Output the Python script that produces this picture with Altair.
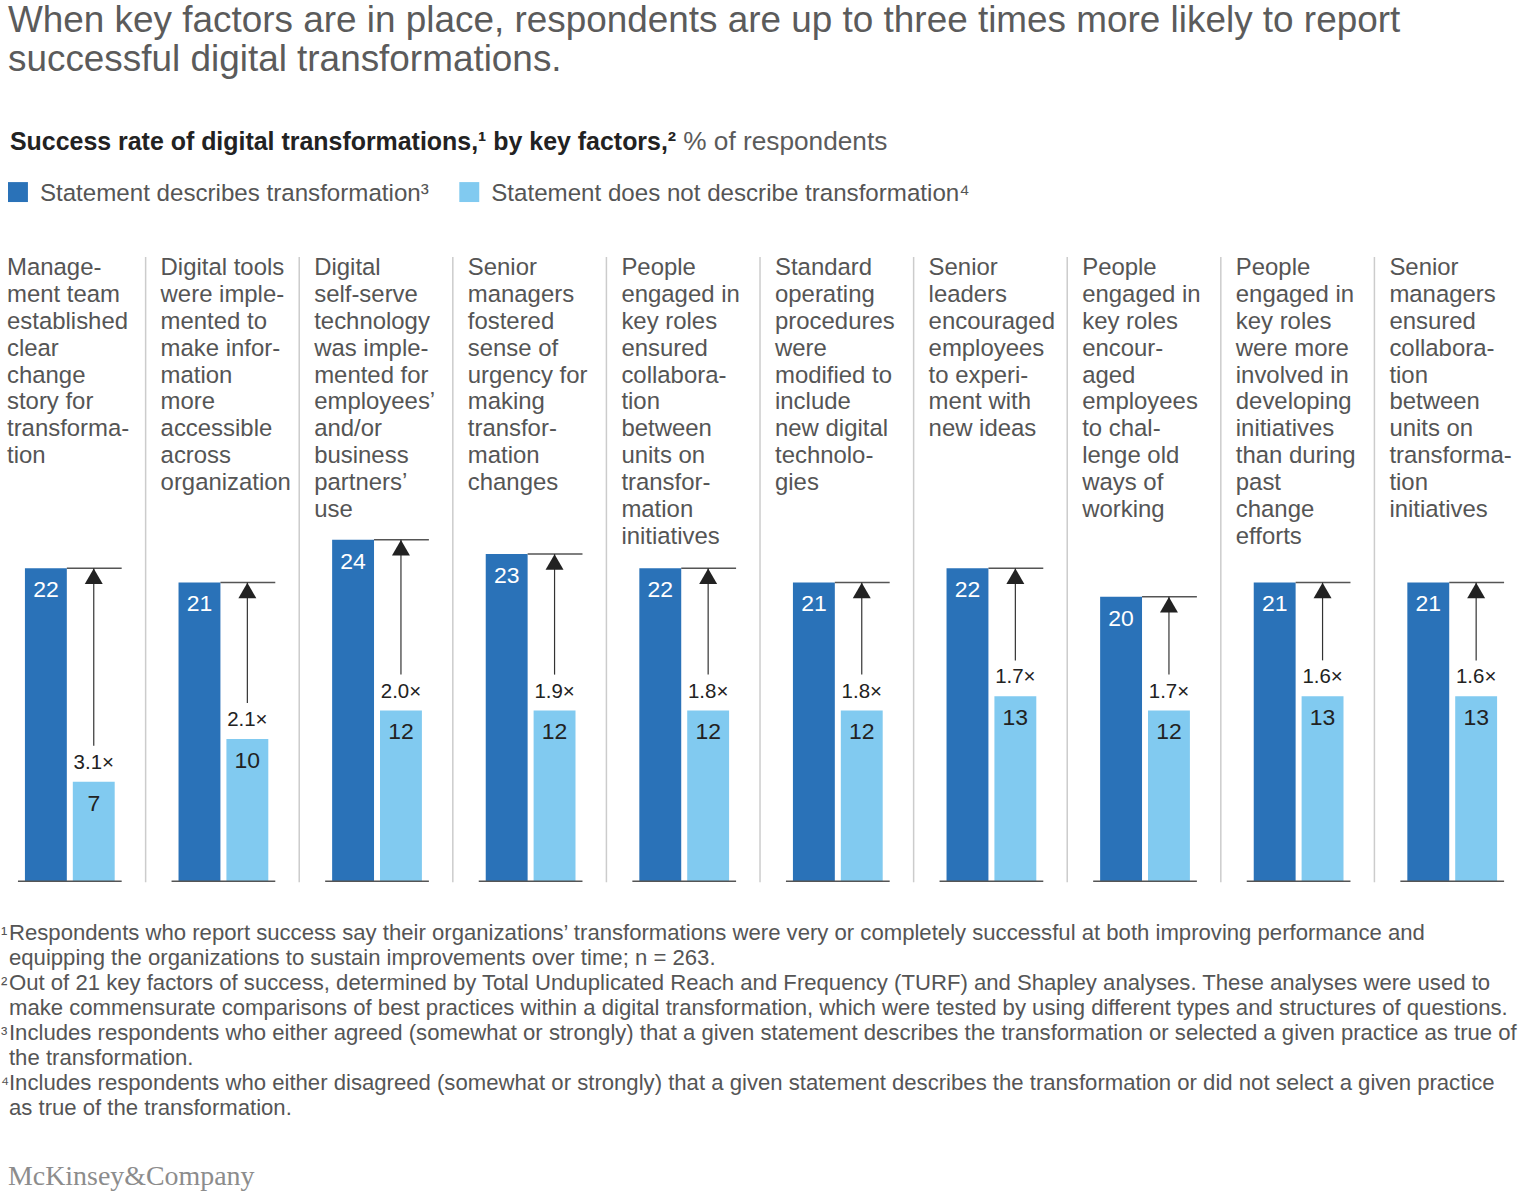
import altair as alt
import pandas as pd

FONT = "Liberation Sans"
DARK = "#2a72b8"
LIGHT = "#81caf0"

TITLE = ("When key factors are in place, respondents are up to three times more likely to report\n"
         "successful digital transformations.")
SUBTITLE_BOLD = "Success rate of digital transformations,\u00b9 by key factors,\u00b2"
SUBTITLE_REST = "% of respondents"
SERIES = ["Statement describes transformation", "Statement does not describe transformation"]
SERIES_SUP = ["\u00b3", "\u2074"]

FACTORS = [
    "Manage-\nment team\nestablished\nclear\nchange\nstory for\ntransforma-\ntion",
    "Digital tools\nwere imple-\nmented to\nmake infor-\nmation\nmore\naccessible\nacross\norganization",
    "Digital\nself-serve\ntechnology\nwas imple-\nmented for\nemployees\u2019\nand/or\nbusiness\npartners\u2019\nuse",
    "Senior\nmanagers\nfostered\nsense of\nurgency for\nmaking\ntransfor-\nmation\nchanges",
    "People\nengaged in\nkey roles\nensured\ncollabora-\ntion\nbetween\nunits on\ntransfor-\nmation\ninitiatives",
    "Standard\noperating\nprocedures\nwere\nmodified to\ninclude\nnew digital\ntechnolo-\ngies",
    "Senior\nleaders\nencouraged\nemployees\nto experi-\nment with\nnew ideas",
    "People\nengaged in\nkey roles\nencour-\naged\nemployees\nto chal-\nlenge old\nways of\nworking",
    "People\nengaged in\nkey roles\nwere more\ninvolved in\ndeveloping\ninitiatives\nthan during\npast\nchange\nefforts",
    "Senior\nmanagers\nensured\ncollabora-\ntion\nbetween\nunits on\ntransforma-\ntion\ninitiatives",
]
DESCRIBES = [22, 21, 24, 23, 22, 21, 22, 20, 21, 21]
NOT_DESCRIBES = [7, 10, 12, 12, 12, 12, 13, 12, 13, 13]
MULTIPLIERS = ["3.1\u00d7", "2.1\u00d7", "2.0\u00d7", "1.9\u00d7", "1.8\u00d7",
               "1.8\u00d7", "1.7\u00d7", "1.7\u00d7", "1.6\u00d7", "1.6\u00d7"]

FOOTNOTE_MARKS = ["\u00b9", "\u00b2", "\u00b3", "\u2074"]
FOOTNOTES = [
    "Respondents who report success say their organizations\u2019 transformations were very or completely successful at both improving performance and\n"
    "equipping the organizations to sustain improvements over time; n = 263.",
    "Out of 21 key factors of success, determined by Total Unduplicated Reach and Frequency (TURF) and Shapley analyses. These analyses were used to\n"
    "make commensurate comparisons of best practices within a digital transformation, which were tested by using different types and structures of questions.",
    "Includes respondents who either agreed (somewhat or strongly) that a given statement describes the transformation or selected a given practice as true of\n"
    "the transformation.",
    "Includes respondents who either disagreed (somewhat or strongly) that a given statement describes the transformation or did not select a given practice\n"
    "as true of the transformation.",
]
LOGO = "McKinsey&Company"

# ---------------- data tables ----------------
bars_df = pd.DataFrame({
    "idx": [i for i in range(len(FACTORS)) for _ in SERIES],
    "series": SERIES * len(FACTORS),
    "value": [v for pair in zip(DESCRIBES, NOT_DESCRIBES) for v in pair],
})
ann_df = pd.DataFrame({
    "idx": list(range(len(FACTORS))),
    "factor": FACTORS,
    "describes": DESCRIBES,
    "not_describes": NOT_DESCRIBES,
    "mult": MULTIPLIERS,
})
legend_df = pd.DataFrame({
    "k": [0, 1],
    "series": SERIES,
    "label": [s + sup for s, sup in zip(SERIES, SERIES_SUP)],
})
foot_df = pd.DataFrame({
    "k": list(range(len(FOOTNOTES))),
    "mark": FOOTNOTE_MARKS,
    "text": FOOTNOTES,
})

color_scale = alt.Scale(domain=SERIES, range=[DARK, LIGHT])
y_scale = alt.Scale(domain=[0, 45])
PANEL_W = 153.6
PANEL_H = 642

# ---------------- header ----------------
title = alt.Chart(pd.DataFrame({"t": [TITLE]})).mark_text(
    align="left", baseline="alphabetic", fontSize=37, lineHeight=39,
    lineBreak="\n", color="#5b5b5b", font=FONT
).encode(x=alt.value(8), y=alt.value(31), text="t:N")

sub_bold = alt.Chart(pd.DataFrame({"t": [SUBTITLE_BOLD]})).mark_text(
    align="left", baseline="alphabetic", fontSize=25, fontWeight="bold",
    color="#222222", font=FONT
).encode(x=alt.value(10), y=alt.value(149), text="t:N")

sub_rest = alt.Chart(pd.DataFrame({"t": [SUBTITLE_REST]})).mark_text(
    align="left", baseline="alphabetic", fontSize=26.3, color="#5b5b5b", font=FONT
).encode(x=alt.value(685), y=alt.value(149), text="t:N")

leg_x = alt.X("k:Q", scale=alt.Scale(domain=[0, 1], range=[18, 470.5]), axis=None)
leg_sq = alt.Chart(legend_df).mark_square(size=400, opacity=1).encode(
    x=leg_x, y=alt.value(191),
    color=alt.Color("series:N", scale=color_scale, legend=None))
leg_txt = alt.Chart(legend_df).mark_text(
    align="left", baseline="middle", dx=22, fontSize=24.2, color="#555555", font=FONT
).encode(x=leg_x, y=alt.value(193), text="label:N")

header = alt.layer(title, sub_bold, sub_rest, leg_sq, leg_txt).properties(width=1536, height=240)

# ---------------- panels ----------------
x_enc = alt.X("series:N", axis=None,
              scale=alt.Scale(domain=SERIES, range=[25, 115], paddingInner=0.125, paddingOuter=0))

panels = []
for i in range(len(FACTORS)):
    bsrc = alt.Chart(bars_df).transform_filter(alt.datum.idx == i)
    asrc = alt.Chart(ann_df).transform_filter(alt.datum.idx == i)

    layers = []
    if i < len(FACTORS) - 1:
        layers.append(asrc.mark_rule(color="#cccccc", strokeWidth=1.5).encode(
            x=alt.value(146), y=alt.value(16), y2=alt.value(PANEL_H + 1)))
    layers.append(asrc.mark_text(
        align="left", baseline="top", fontSize=24, lineHeight=27,
        lineBreak="\n", color="#555555", font=FONT
    ).encode(x=alt.value(7), y=alt.value(15), text="factor:N"))
    layers.append(bsrc.mark_bar().encode(
        x=x_enc,
        y=alt.Y("value:Q", scale=y_scale, axis=None),
        color=alt.Color("series:N", scale=color_scale, legend=None)))
    layers.append(bsrc.mark_text(baseline="middle", dy=22, fontSize=23, font=FONT).encode(
        x=x_enc,
        y=alt.Y("value:Q", scale=y_scale, axis=None),
        text="value:Q",
        color=alt.condition(alt.datum.series == SERIES[0], alt.value("white"), alt.value("#222222"))))
    layers.append(asrc.mark_rule(color="#555555", strokeWidth=1.5).encode(
        x=alt.value(67), x2=alt.value(122),
        y=alt.Y("describes:Q", scale=y_scale, axis=None)))
    layers.append(asrc.mark_rule(color="#555555", strokeWidth=1.5).encode(
        x=alt.value(18), x2=alt.value(122),
        y=alt.Y("zero:Q", scale=y_scale, axis=None)).transform_calculate(zero="0"))
    layers.append(asrc.mark_rule(color="#333333", strokeWidth=1.2, y2Offset=-36).encode(
        x=alt.value(94),
        y=alt.Y("describes:Q", scale=y_scale, axis=None),
        y2="not_describes:Q"))
    layers.append(asrc.mark_point(shape="triangle-up", size=324, filled=True, opacity=1,
                                  color="#222222", strokeWidth=0, yOffset=8).encode(
        x=alt.value(94), y=alt.Y("describes:Q", scale=y_scale, axis=None)))
    layers.append(asrc.mark_text(baseline="middle", dy=-19, fontSize=20.5, color="#222222", font=FONT).encode(
        x=alt.value(94), y=alt.Y("not_describes:Q", scale=y_scale, axis=None), text="mult:N"))

    panels.append(alt.layer(*layers).properties(width=PANEL_W, height=PANEL_H))

row = alt.hconcat(*panels, spacing=0, bounds="flush")

# ---------------- footer ----------------
foot_y = alt.Y("k:Q", scale=alt.Scale(domain=[0, 3], range=[57, 207]), axis=None)
fn_main = alt.Chart(foot_df).mark_text(
    align="left", baseline="alphabetic", fontSize=22.2, lineHeight=25,
    lineBreak="\n", color="#555555", font=FONT
).encode(x=alt.value(9), y=foot_y, text="text:N")
fn_sup = alt.Chart(foot_df).mark_text(
    align="left", baseline="alphabetic", fontSize=19, color="#555555", font=FONT
).encode(x=alt.value(1), y=foot_y, text="mark:N")
logo = alt.Chart(pd.DataFrame({"t": [LOGO]})).mark_text(
    align="left", baseline="alphabetic", fontSize=28, color="#8c8c8c",
    font="Liberation Serif"
).encode(x=alt.value(8), y=alt.value(303), text="t:N")

footer = alt.layer(fn_main, fn_sup, logo).properties(width=1536, height=318)

chart = alt.vconcat(header, row, footer, spacing=0).properties(
    padding=0, background="white"
).configure(font=FONT).configure_view(stroke="transparent", strokeWidth=0)

chart.save("out.html", embed_options={"renderer": "svg", "actions": False})
